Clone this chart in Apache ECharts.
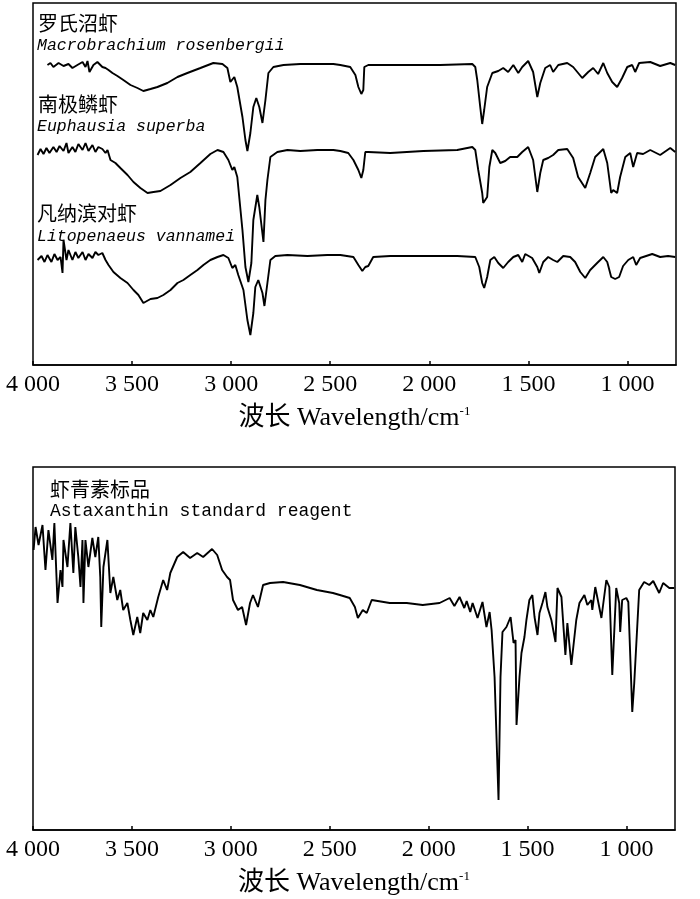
<!DOCTYPE html>
<html><head><meta charset="utf-8">
<script src="https://cdn.jsdelivr.net/npm/echarts@6/dist/echarts.min.js"></script>
<style>html,body{margin:0;padding:0;background:#fff}#c{width:700px;height:899px}</style>
</head><body><div id="c"></div>
<script>
// x: wavenumber (cm-1), y: relative transmittance (arbitrary units, offset per trace)
const xTicks = [4000, 3500, 3000, 2500, 2000, 1500, 1000];

const wnRos = [3927,3912,3897,3871,3846,3821,3801,3776,3750,3735,3725,3715,3695,3675,3665,3650,3634,3619,3599,3574,3544,3508,3473,3443,3407,3372,3322,3271,3221,3155,3090,3044,3019,3004,2994,2984,2969,2943,2928,2918,2903,2888,2873,2858,2842,2827,2812,2787,2736,2651,2565,2484,2449,2399,2373,2358,2343,2333,2328,2308,2111,1945,1783,1768,1758,1743,1733,1723,1708,1682,1652,1627,1602,1576,1551,1531,1501,1476,1455,1440,1415,1390,1375,1349,1304,1274,1228,1198,1173,1148,1122,1102,1077,1052,1027,1001,976,961,941,885,835,784,759];
const tRos  = [300,302,298,302,299,301,297,300,303,298,304,293,300,303,305,298,297,295,292,289,285,280,277,274,276,278,282,288,292,297,302,301,297,283,282,288,278,248,225,214,232,258,267,258,242,265,292,298,300,301,301,301,300,298,290,278,271,275,298,300,300,300,301,298,285,258,241,255,278,292,294,297,293,300,292,298,304,293,268,282,297,300,293,300,302,298,287,293,297,291,302,292,283,278,287,298,300,293,302,303,299,302,300];

const wnEup = [3977,3962,3947,3932,3917,3897,3881,3866,3846,3831,3821,3801,3786,3771,3750,3735,3720,3700,3685,3670,3650,3634,3624,3609,3584,3559,3523,3493,3458,3422,3392,3357,3306,3256,3206,3155,3105,3069,3039,3014,2994,2984,2969,2943,2928,2913,2898,2888,2868,2858,2837,2827,2817,2802,2767,2716,2651,2565,2484,2449,2409,2383,2358,2343,2333,2323,2308,2197,2030,1859,1783,1768,1753,1733,1728,1708,1697,1682,1667,1642,1617,1592,1556,1531,1501,1476,1455,1440,1425,1400,1375,1349,1304,1274,1249,1213,1188,1163,1122,1102,1082,1072,1052,1037,1011,986,971,951,921,885,835,784,759];
const tEup  = [210,216,211,217,212,218,213,219,214,222,212,218,213,221,215,222,214,220,213,218,216,212,215,205,202,197,190,183,177,172,173,174,180,187,193,202,211,215,213,205,195,198,188,135,98,83,102,145,170,158,123,165,185,208,213,215,214,215,215,214,212,205,195,187,195,213,213,212,214,215,218,215,195,172,162,168,198,215,212,202,204,208,208,213,218,205,173,192,205,207,210,215,216,207,188,177,192,208,216,202,172,175,172,188,208,212,198,212,211,215,210,217,213];

const wnLit = [3977,3957,3942,3927,3907,3892,3876,3861,3851,3846,3831,3821,3801,3786,3771,3750,3735,3720,3700,3685,3670,3650,3634,3619,3594,3559,3523,3493,3468,3443,3407,3372,3342,3306,3271,3241,3206,3170,3140,3105,3069,3039,3014,2994,2979,2964,2938,2918,2903,2888,2878,2863,2842,2832,2817,2802,2777,2716,2615,2515,2449,2383,2358,2338,2323,2308,2283,2197,2030,1859,1768,1748,1733,1723,1708,1692,1672,1652,1627,1602,1576,1551,1531,1516,1481,1455,1445,1425,1400,1375,1354,1324,1289,1264,1238,1213,1188,1153,1122,1102,1082,1062,1042,1022,996,971,956,936,875,835,795,759];
const tLit  = [105,109,103,110,103,111,105,108,92,125,105,115,105,113,107,113,105,111,107,113,110,112,105,100,93,87,82,75,70,62,66,67,70,75,82,85,90,95,100,105,108,110,107,97,100,90,75,45,30,52,78,85,72,59,82,105,109,110,109,110,110,108,100,94,98,99,108,109,109,109,108,98,82,77,88,105,108,102,97,103,108,110,103,111,107,98,92,103,108,105,103,109,108,103,93,87,95,102,108,103,88,86,88,99,105,108,100,107,111,108,109,108];

const wnAst = [3997,3987,3972,3952,3937,3922,3902,3892,3876,3861,3851,3846,3826,3811,3796,3786,3771,3760,3750,3745,3735,3720,3700,3685,3670,3660,3655,3644,3624,3609,3594,3574,3559,3544,3523,3508,3493,3473,3458,3443,3422,3407,3392,3367,3342,3322,3306,3271,3241,3206,3170,3140,3095,3069,3044,3019,3004,2989,2964,2943,2923,2903,2888,2863,2837,2802,2736,2651,2565,2484,2449,2399,2373,2358,2333,2313,2288,2197,2111,2030,1945,1894,1870,1844,1820,1808,1790,1778,1753,1728,1708,1692,1682,1667,1647,1637,1627,1607,1586,1571,1561,1556,1541,1531,1516,1506,1491,1476,1465,1450,1440,1425,1410,1400,1380,1359,1349,1329,1309,1299,1279,1254,1238,1213,1198,1178,1173,1158,1127,1102,1087,1072,1052,1037,1032,1022,1001,991,971,961,936,911,885,865,835,815,784,759];
const tAst  = [280,303,285,305,260,300,270,307,227,260,243,290,263,307,257,303,273,243,290,227,290,263,292,273,293,253,203,263,290,237,253,230,240,220,227,210,195,213,197,217,210,220,213,233,250,240,257,273,278,272,277,273,281,275,260,253,250,230,220,223,205,227,235,223,245,247,248,245,240,237,235,232,223,212,220,217,230,227,227,225,227,232,224,233,222,229,218,227,212,228,203,218,200,153,30,153,198,203,213,187,190,105,153,177,193,210,230,235,213,195,217,227,238,223,210,188,242,233,175,207,165,210,227,235,225,230,220,243,212,250,243,155,242,227,198,230,232,228,118,147,240,248,245,249,237,247,242,242];

const zip = (a, b) => a.map((v, i) => [v, b[i]]);
const fmt = v => String(v).replace(/\B(?=(\d{3})+(?!\d))/g, ' ');

const chart = echarts.init(document.getElementById('c'), null, {renderer: 'canvas'});
const serifFam = '"Liberation Serif", "Noto Sans CJK SC", serif';
const monoFam = '"Liberation Mono", "Noto Sans CJK SC", monospace';

function xAx(gi) {
  return {
    gridIndex: gi, type: 'value', inverse: true, min: 755, max: 4000,
    axisLine: {show: true, lineStyle: {color: '#000', width: 1.5}},
    axisTick: {show: true, inside: true, length: 4, customValues: xTicks, lineStyle: {color: '#000', width: 1.5}},
    axisLabel: {customValues: xTicks, formatter: fmt, color: '#000', fontFamily: serifFam, fontSize: 24, margin: 8},
    splitLine: {show: false},
    name: '{a|波长 Wavelength/cm}{s|-1}',
    nameLocation: 'middle', nameGap: 40,
    nameTextStyle: {
      verticalAlign: 'top',
      rich: {
        a: {fontFamily: serifFam, fontSize: 26, color: '#000'},
        s: {fontFamily: serifFam, fontSize: 13, color: '#000', verticalAlign: 'top', padding: [0, 0, 12, 0]}
      }
    }
  };
}
function line(data, gi) {
  return {type: 'line', xAxisIndex: gi, yAxisIndex: gi, data: data, showSymbol: false, symbol: 'none',
    silent: true, animation: false, lineStyle: {color: '#000', width: 1.9}};
}
function txt(x, y, s, size, fam, italic) {
  return {type: 'text', x: x, y: y, silent: true,
    style: {text: s, fill: '#000', font: (italic ? 'italic ' : '') + size + 'px ' + fam, verticalAlign: 'middle', align: 'left'}};
}

chart.setOption({
  animation: false,
  backgroundColor: '#fff',
  grid: [
    {left: 33, right: 24, top: 3, height: 362, show: true, borderColor: '#000', borderWidth: 1.5, containLabel: false},
    {left: 33, right: 25, top: 467, height: 363, show: true, borderColor: '#000', borderWidth: 1.5, containLabel: false}
  ],
  xAxis: [xAx(0), xAx(1)],
  yAxis: [
    {gridIndex: 0, type: 'value', min: 0, max: 362, show: false},
    {gridIndex: 1, type: 'value', min: 0, max: 363, show: false}
  ],
  series: [
    line(zip(wnRos, tRos), 0),
    line(zip(wnEup, tEup), 0),
    line(zip(wnLit, tLit), 0),
    line(zip(wnAst, tAst), 1)
  ],
  graphic: [
    txt(38, 23, '罗氏沼虾', 20, '"Noto Sans CJK SC"', false),
    txt(37, 46, 'Macrobrachium rosenbergii', 16.5, monoFam, true),
    txt(38, 104, '南极鳞虾', 20, '"Noto Sans CJK SC"', false),
    txt(37, 127, 'Euphausia superba', 16.5, monoFam, true),
    txt(37, 213, '凡纳滨对虾', 20, '"Noto Sans CJK SC"', false),
    txt(37, 237, 'Litopenaeus vannamei', 16.5, monoFam, true),
    txt(50, 489, '虾青素标品', 20, '"Noto Sans CJK SC"', false),
    txt(50, 511, 'Astaxanthin standard reagent', 18, monoFam, false)
  ]
});
</script>
</body></html>
